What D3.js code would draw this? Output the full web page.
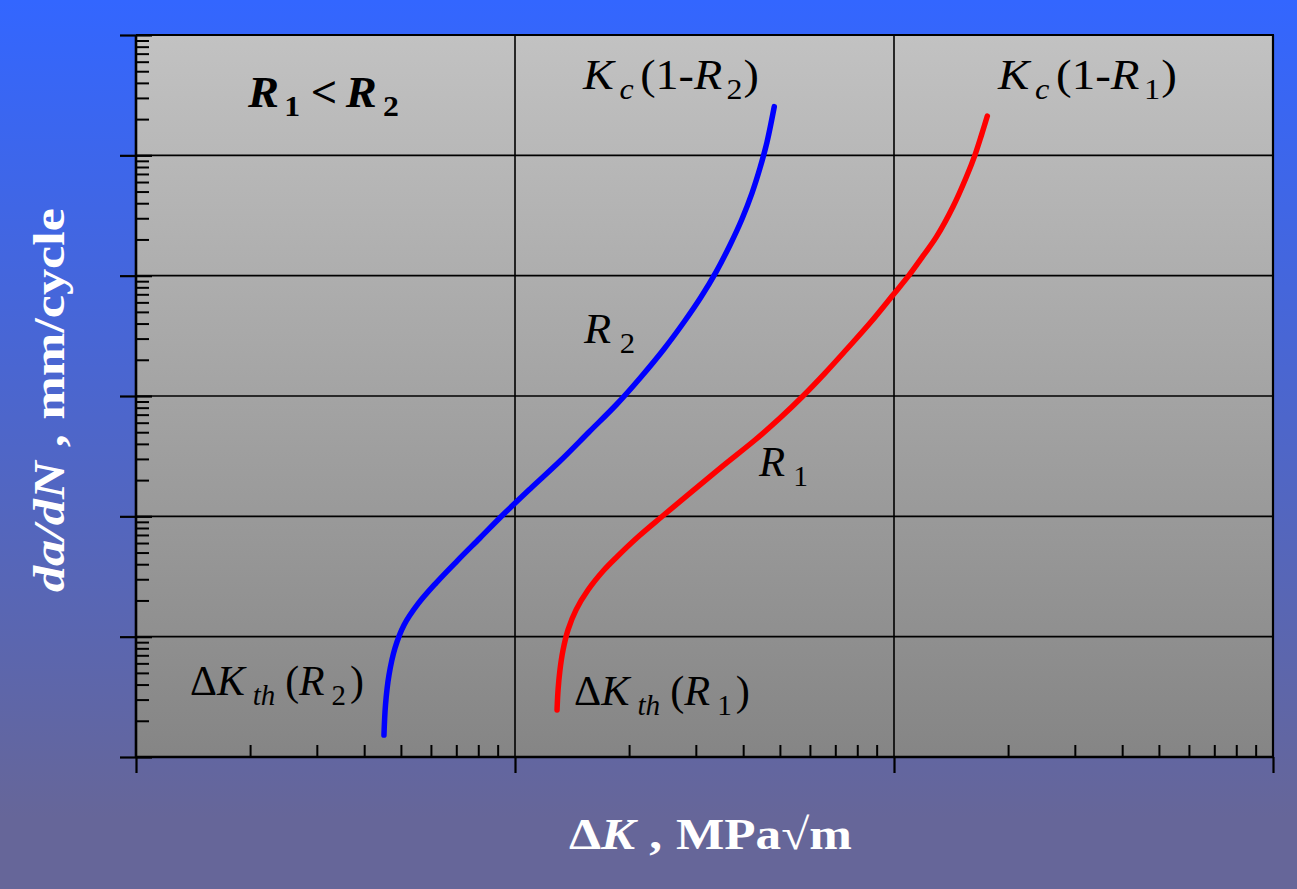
<!DOCTYPE html>
<html><head><meta charset="utf-8">
<script src="https://cdn.jsdelivr.net/npm/d3@7"></script>
<style>html,body{margin:0;padding:0;background:#3366ff;} svg{display:block}</style>
</head><body><svg id="c" width="1297" height="889"></svg>
<script>
// ---- data ----
const xDomain = [1, 1000];          // ΔK, MPa√m (log)
const yDomain = [1e-7, 1e-1];       // da/dN, mm/cycle (log)
const xMajor = [1, 10, 100, 1000];
const yMajor = [1e-7, 1e-6, 1e-5, 1e-4, 1e-3, 1e-2, 1e-1];

// curve R2 (blue)
const r2DK   = [4.511, 4.553, 4.651, 4.824, 5.096, 5.546, 6.187, 7.031, 8.084, 9.354, 10.96, 13.15, 15.68, 18.58, 21.50, 24.73, 27.92, 30.96, 33.91, 36.93, 39.71, 42.20, 44.30, 46.23, 48.32];
const r2Rate = [1.52e-7, 2.71e-7, 4.80e-7, 8.05e-7, 1.25e-6, 1.87e-6, 2.79e-6, 4.25e-6, 6.61e-6, 1.05e-5, 1.69e-5, 2.88e-5, 5.02e-5, 8.58e-5, 1.44e-4, 2.46e-4, 4.12e-4, 6.65e-4, 1.07e-3, 1.80e-3, 2.96e-3, 4.86e-3, 7.85e-3, 1.29e-2, 2.54e-2];

// curve R1 (red)
const r1DK   = [12.91, 12.99, 13.14, 13.39, 13.80, 14.49, 15.58, 17.17, 18.59, 21.24, 24.43, 28.96, 35.17, 42.98, 50.03, 57.53, 65.76, 74.70, 86.43, 99.39, 109.6, 119.3, 129.5, 143.1, 155.3, 163.6, 170.2, 176.3];
const r1Rate = [2.46e-7, 3.60e-7, 5.28e-7, 7.75e-7, 1.14e-6, 1.67e-6, 2.44e-6, 3.58e-6, 4.62e-6, 6.86e-6, 9.97e-6, 1.56e-5, 2.59e-5, 4.31e-5, 6.56e-5, 1.00e-4, 1.55e-4, 2.41e-4, 4.04e-4, 6.91e-4, 1.01e-3, 1.46e-3, 2.11e-3, 3.74e-3, 6.64e-3, 1.01e-2, 1.48e-2, 2.12e-2];

// ---- layout ----
const W = 1297, H = 889;
const L = 136, R = 1273, T = 35, B = 757;
const SERIF = "'Liberation Serif','Times New Roman',serif";

const svg = d3.select("#c");
const defs = svg.append("defs");
const bg = defs.append("linearGradient").attr("id","bg").attr("x1",0).attr("y1",0).attr("x2",0).attr("y2",1);
bg.append("stop").attr("offset","0%").attr("stop-color","#3366ff");
bg.append("stop").attr("offset","92%").attr("stop-color","#666699");
bg.append("stop").attr("offset","100%").attr("stop-color","#666699");
const pg = defs.append("linearGradient").attr("id","pg").attr("x1",0).attr("y1",0).attr("x2",0).attr("y2",1);
pg.append("stop").attr("offset","0%").attr("stop-color","#c2c2c2");
pg.append("stop").attr("offset","100%").attr("stop-color","#858585");

svg.append("rect").attr("width",W).attr("height",H).attr("fill","url(#bg)");

const x = d3.scaleLog().domain(xDomain).range([L, R]);
const y = d3.scaleLog().domain(yDomain).range([B, T]);

svg.append("rect").attr("x",L).attr("y",T).attr("width",R-L).attr("height",B-T).attr("fill","url(#pg)");

const isMajor = v => Math.abs(Math.log10(v) - Math.round(Math.log10(v))) < 1e-9;
const xMinor = x.ticks().filter(v => !isMajor(v));
const yMinor = y.ticks().filter(v => !isMajor(v));

// grid
const grid = svg.append("g").attr("stroke","#000").attr("stroke-width",1.6);
grid.selectAll("line.gx").data(xMajor.slice(1,-1)).join("line")
  .attr("x1",d=>x(d)).attr("x2",d=>x(d)).attr("y1",T).attr("y2",B);
grid.selectAll("line.gy").data(yMajor.slice(1,-1)).join("line")
  .attr("y1",d=>y(d)).attr("y2",d=>y(d)).attr("x1",L).attr("x2",R);

function styleAxis(g, w){
  g.select(".domain").remove();
  g.selectAll(".tick line").attr("stroke","#000").attr("stroke-width",w);
  g.selectAll(".tick text").remove();
}
svg.append("g").attr("transform",`translate(0,${B})`)
  .call(d3.axisBottom(x).tickValues(xMinor).tickSize(-12).tickSizeOuter(0).tickFormat(""))
  .call(g=>styleAxis(g,2));
svg.append("g").attr("transform",`translate(0,${B})`)
  .call(d3.axisBottom(x).tickValues(xMajor).tickSize(16).tickSizeOuter(0).tickFormat(""))
  .call(g=>styleAxis(g,2.2));
svg.append("g").attr("transform",`translate(${L},0)`)
  .call(d3.axisLeft(y).tickValues(yMinor).tickSize(-13).tickSizeOuter(0).tickFormat(""))
  .call(g=>styleAxis(g,2));
svg.append("g").attr("transform",`translate(${L},0)`)
  .call(d3.axisLeft(y).tickValues(yMajor).tickSize(16).tickSizeOuter(0).tickFormat(""))
  .call(g=>styleAxis(g,2.2));
svg.append("g").attr("transform",`translate(${L},0)`)
  .call(d3.axisLeft(y).tickValues(yMajor).tickSize(-16).tickSizeOuter(0).tickFormat(""))
  .call(g=>styleAxis(g,2.2));

// frame
const fr = svg.append("g").attr("stroke","#000").attr("fill","none");
fr.append("line").attr("x1",L).attr("x2",L).attr("y1",T).attr("y2",B).attr("stroke-width",2.6);
fr.append("line").attr("x1",L).attr("x2",R).attr("y1",B).attr("y2",B).attr("stroke-width",2.6);
fr.append("line").attr("x1",L).attr("x2",R+1).attr("y1",T).attr("y2",T).attr("stroke-width",2.2);
fr.append("line").attr("x1",R).attr("x2",R).attr("y1",T).attr("y2",B).attr("stroke-width",2.2);

// curves
const line = d3.line().x(d=>x(d[0])).y(d=>y(d[1])).curve(d3.curveCatmullRom.alpha(0.5));
svg.append("path").datum(d3.zip(r2DK, r2Rate)).attr("d",line)
  .attr("fill","none").attr("stroke","#0000ff").attr("stroke-width",5.5).attr("stroke-linecap","round");
svg.append("path").datum(d3.zip(r1DK, r1Rate)).attr("d",line)
  .attr("fill","none").attr("stroke","#ff0000").attr("stroke-width",5.5).attr("stroke-linecap","round");

// rich text helper; fits the text horizontally between x0 and x1
function rich(x0, x1, py, segs, o={}){
  const size = o.size||42, subSize = o.subSize||29, subShift = o.subShift||10;
  const t = svg.append("text").attr("x",0).attr("y",py)
    .attr("font-family",SERIF).attr("fill",o.fill||"#000")
    .attr("font-size",size);
  let cur = 0;
  segs.forEach(s=>{
    const sh = s.sub ? subShift : 0;
    const ts = t.append("tspan").text(s.t)
      .attr("dy", sh - cur)
      .attr("font-size", s.sub ? subSize : size)
      .attr("font-style", s.i ? "italic" : "normal")
      .attr("font-weight", (s.b||o.bold) ? "bold" : "normal");
    if(s.dx) ts.attr("dx", s.dx);
    cur = sh;
  });
  const bb = t.node().getBBox();
  const s = (x1 - x0) / bb.width;
  if(o.rotate){
    t.attr("transform", `translate(${o.cx},${o.cy}) rotate(-90) scale(${s},1) translate(${-(bb.x+bb.width/2)},0)`);
  } else {
    t.attr("transform", `translate(${x0},0) scale(${s},1) translate(${-bb.x},0)`);
  }
  return t;
}

rich(247,399,107,[{t:"R",i:1},{t:"1",sub:1,dx:5},{t:"<",dx:10},{t:"R",i:1,dx:8},{t:"2",sub:1,dx:6}],{bold:true,size:44,subSize:30,subShift:9});

rich(582,759,89,[{t:"K",i:1},{t:"c",i:1,sub:1,dx:5},{t:"(1-",dx:6},{t:"R",i:1},{t:"2",sub:1,dx:4},{t:")",dx:1}]);
rich(997,1177,89,[{t:"K",i:1},{t:"c",i:1,sub:1,dx:5},{t:"(1-",dx:6},{t:"R",i:1},{t:"1",sub:1,dx:4},{t:")",dx:1}]);

rich(583,635,343,[{t:"R",i:1},{t:"2",sub:1,dx:8}]);
rich(758,808,476,[{t:"R",i:1},{t:"1",sub:1,dx:8}]);

rich(190,364,695,[{t:"Δ"},{t:"K",i:1},{t:"th",i:1,sub:1,dx:8},{t:"(",dx:10},{t:"R",i:1},{t:"2",sub:1,dx:7},{t:")",dx:4}]);
rich(574,750,705,[{t:"Δ"},{t:"K",i:1},{t:"th",i:1,sub:1,dx:8},{t:"(",dx:10},{t:"R",i:1},{t:"1",sub:1,dx:7},{t:")",dx:4}]);

// axis titles
rich(569,852,849,[{t:"Δ"},{t:"K",i:1},{t:",",dx:12},{t:"MPa√m",dx:12}],{fill:"#fff",bold:true,size:44,subShift:0});
rich(208,592,0,[{t:"da/dN",i:1},{t:",",dx:12},{t:"mm/cycle",dx:12}],{fill:"#fff",bold:true,size:44,subShift:0,rotate:true,cx:64,cy:400});
</script></body></html>
